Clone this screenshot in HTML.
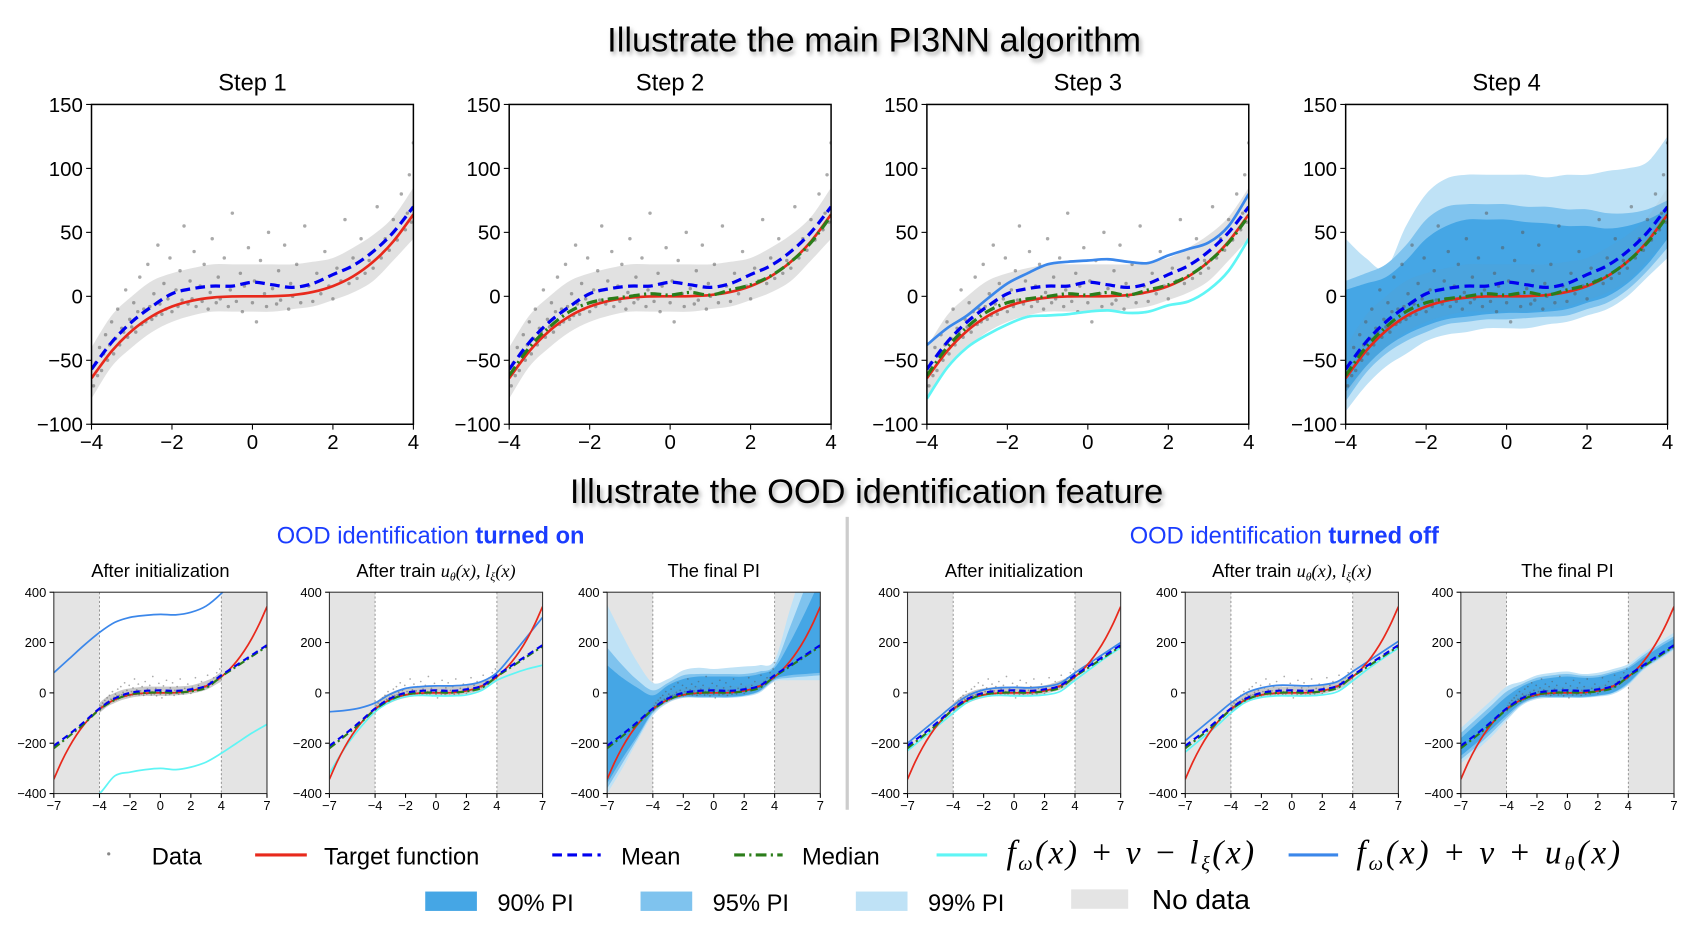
<!DOCTYPE html>
<html><head><meta charset="utf-8"><style>
html,body{margin:0;padding:0;background:#fff;}
svg{display:block;font-family:"Liberation Sans",sans-serif;}
</style></head><body>
<svg id="fig" width="1688" height="926" viewBox="0 0 1568 860" preserveAspectRatio="none" xmlns="http://www.w3.org/2000/svg">
<defs><filter id="sh" x="-5%" y="-20%" width="110%" height="150%"><feDropShadow dx="2" dy="3" stdDeviation="2" flood-color="#888" flood-opacity="0.7"/></filter></defs>
<text x="812" y="48" text-anchor="middle" font-size="32" filter="url(#sh)">Illustrate the main PI3NN algorithm</text>
<text x="805" y="467" text-anchor="middle" font-size="32" filter="url(#sh)">Illustrate the OOD identification feature</text>
<text x="400" y="505" text-anchor="middle" font-size="22" fill="#1a3cff">OOD identification <tspan font-weight="bold">turned on</tspan></text>
<text x="1193" y="505" text-anchor="middle" font-size="22" fill="#1a3cff">OOD identification <tspan font-weight="bold">turned off</tspan></text>
<line x1="787" y1="480" x2="787" y2="752" stroke="#ccc" stroke-width="3"/>
<g id="plots"></g>
<g id="legend"></g>
</svg>
<script>
// ---------- data ----------
const topX = [-4,-3.5,-3,-2.5,-2,-1.5,-1,-0.5,0,0.5,1,1.5,2,2.5,3,3.5,4];
const topTarget = [-64,-42.9,-27,-15.6,-8,-3.4,-1,-0.1,0,0.1,1,3.4,8,15.6,27,42.9,64];
const topMean = [-57,-36,-20,-8,2,6,8,8,11,9,7,10,17,24,35,50,70];
const topMedian = [-62,-40,-24,-12,-5,-2,0,2,1,3,1,5,9,16,27,42,63];
const topUpper = [-38,-25,-15,-2,10,18,25,27,28,29,27,26,32,37,42,55,80];
const topLower = [-80,-56,-40,-30,-22,-16,-15,-14,-12,-11,-13,-12,-7,-4,5,20,45];
const pi99Up = [45,30,22,55,80,92,95,95,95,95,93,95,95,98,100,105,125];
const pi99Lo = [-90,-70,-55,-45,-35,-30,-28,-25,-25,-25,-22,-20,-15,-10,0,15,30];
const pi95Up = [12,18,25,40,60,70,72,72,72,70,70,68,68,65,65,68,75];
const pi95Lo = [-82,-60,-45,-35,-28,-22,-20,-18,-18,-17,-16,-15,-10,-5,5,20,38];
const pi90Up = [5,10,15,28,45,55,60,60,60,58,57,55,55,53,55,60,68];
const pi90Lo = [-75,-55,-40,-30,-23,-18,-16,-14,-13,-13,-12,-10,-5,0,10,25,45];
// dense core of the data cloud
const cloudUp = [-40,-15,0,12,18,22,25,25,25,25,25,27,30,38,48,62,85];
const cloudLo = [-80,-55,-40,-28,-20,-15,-12,-12,-12,-12,-10,-8,-3,3,12,28,45];

const dataX = [-3.95,-3.9,-3.85,-3.8,-3.75,-3.7,-3.65,-3.6,-3.55,-3.5,-3.45,-3.4,-3.35,-3.3,-3.25,-3.2,-3.15,-3.1,-3.05,-3.0,-2.95,-2.9,-2.85,-2.8,-2.75,-2.7,-2.65,-2.6,-2.55,-2.5,-2.45,-2.4,-2.35,-2.3,-2.25,-2.2,-2.15,-2.1,-2.05,-2.0,-1.9,-1.85,-1.8,-1.75,-1.7,-1.6,-1.55,-1.5,-1.45,-1.4,-1.3,-1.25,-1.2,-1.1,-1.05,-1.0,-0.9,-0.85,-0.8,-0.7,-0.6,-0.55,-0.5,-0.4,-0.3,-0.25,-0.2,-0.1,0,0.05,0.1,0.2,0.3,0.35,0.4,0.5,0.6,0.65,0.7,0.8,0.9,0.95,1.0,1.1,1.2,1.3,1.4,1.5,1.6,1.7,1.8,1.9,2.0,2.1,2.2,2.3,2.4,2.5,2.6,2.7,2.8,2.9,3.0,3.1,3.2,3.3,3.4,3.5,3.6,3.7,3.8,3.85,3.9,3.95,4.0];
const dataY = [-70,-52,-62,-40,-58,-45,-30,-50,-38,-20,-45,-33,-10,-38,-25,-28,5,-32,-18,-24,-5,-28,-12,15,-22,-10,-20,25,-8,-18,2,-15,40,-6,-14,10,-10,-2,30,-12,5,-8,20,-3,55,-6,12,-2,35,-8,8,-4,25,-10,3,45,-5,15,-2,30,-8,5,65,-4,18,-12,8,38,-5,12,-20,28,2,-8,50,6,-6,20,-3,40,-10,10,0,25,-5,55,8,-4,18,2,35,8,-2,22,12,60,10,30,14,45,18,28,22,70,30,45,36,60,44,80,52,65,95,58,120];

const smX = [-7,-6,-5,-4,-3,-2,-1,0,1,2,3,4,5,6,7];
const smTX = [-7,-6.5,-6,-5.5,-5,-4.5,-4,-3.5,-3,-2.5,-2,-1.5,-1,-0.5,0,0.5,1,1.5,2,2.5,3,3.5,4,4.5,5,5.5,6,6.5,7];
const smTarget = [-343,-274.6,-216,-166.4,-125,-91.1,-64,-42.9,-27,-15.6,-8,-3.4,-1,-0.1,0,0.1,1,3.4,8,15.6,27,42.9,64,91.1,125,166.4,216,274.6,343];
const smMean = [-210,-165,-115,-62,-22,0,8,10,8,14,28,70,110,150,190];
const smMedian = [-220,-172,-122,-66,-28,-6,0,2,1,6,20,65,105,145,185];
const aUp = [80,135,190,240,280,300,308,312,310,320,345,395,460,520,580];
const aLo = [-520,-470,-430,-400,-330,-315,-305,-300,-305,-295,-275,-240,-200,-160,-125];
const bUp = [-75,-70,-60,-40,-5,18,25,28,28,32,45,80,150,225,300];
const bLo = [-320,-220,-140,-75,-35,-15,-10,-12,-12,-8,10,50,75,95,110];
const dUp = [-200,-150,-100,-50,-10,12,20,22,20,25,38,80,120,160,200];
const dLo = [-230,-180,-130,-80,-35,-15,-10,-12,-12,-8,5,50,95,140,180];
const eUp = [-190,-140,-90,-40,0,20,30,30,28,32,45,85,125,165,205];
const eLo = [-235,-185,-135,-80,-35,-18,-12,-12,-12,-8,5,48,95,138,178];
const c99Up = [350,230,120,40,55,90,100,95,100,105,110,130,330,520,700];
const c99Lo = [-400,-300,-190,-90,-40,-20,-20,-20,-20,-15,0,45,50,50,50];
const c95Up = [180,110,50,10,40,70,75,75,75,75,85,110,260,420,600];
const c95Lo = [-380,-280,-180,-80,-35,-18,-18,-18,-18,-12,5,50,60,65,70];
const c90Up = [110,60,20,-10,30,55,65,65,65,65,75,100,200,320,450];
const c90Lo = [-360,-260,-170,-75,-30,-15,-15,-15,-15,-10,8,55,70,75,80];
const f99Up = [-140,-85,-30,25,45,70,80,85,75,80,95,115,160,200,240];
const f99Lo = [-280,-230,-175,-110,-50,-25,-20,-20,-20,-15,-5,30,90,130,170];
const f95Up = [-160,-105,-50,5,35,60,70,75,68,70,85,105,150,190,225];
const f95Lo = [-265,-215,-160,-100,-45,-20,-18,-18,-18,-12,0,35,95,135,175];
const f90Up = [-180,-125,-70,-15,25,50,60,65,60,62,78,98,140,180,215];
const f90Lo = [-250,-200,-145,-90,-40,-18,-15,-15,-15,-10,2,40,100,140,180];

const topYTicks = [-100,-50,0,50,100,150];
const topXTicks = [-4,-2,0,2,4];
const smYTicks = [-400,-200,0,200,400];
const smXTicks = [-7,-4,-2,0,2,4,7];

const C90='#45a6e5', C95='#7fc3ee', C99='#bfe2f6';
const NS='http://www.w3.org/2000/svg';
const root=document.getElementById('plots');
function mk(tag,attrs,parent){const e=document.createElementNS(NS,tag);for(const k in attrs)e.setAttribute(k,attrs[k]);(parent||root).appendChild(e);return e;}
function smooth(pts){let d='M'+pts[0][0].toFixed(2)+','+pts[0][1].toFixed(2);
 for(let i=0;i<pts.length-1;i++){const p0=pts[i-1]||pts[i],p1=pts[i],p2=pts[i+1],p3=pts[i+2]||p2;
  const c1=[p1[0]+(p2[0]-p0[0])/6,p1[1]+(p2[1]-p0[1])/6],c2=[p2[0]-(p3[0]-p1[0])/6,p2[1]-(p3[1]-p1[1])/6];
  d+=' C'+c1.join(',')+' '+c2.join(',')+' '+p2[0].toFixed(2)+','+p2[1].toFixed(2);}return d;}
let clipN=0;
function makePlot(name,box,xr,yr,small){
 const g=mk('g',{});
 
 
 const sx=v=>box.x+(v-xr[0])/(xr[1]-xr[0])*box.w, sy=v=>box.y+box.h-(v-yr[0])/(yr[1]-yr[0])*box.h;
 const id='c'+(clipN++);const cp=mk('clipPath',{id},g);mk('rect',{x:box.x,y:box.y,width:box.w,height:box.h},cp);
 const inner=mk('g',{'clip-path':'url(#'+id+')'},g);
 return {g,inner,sx,sy,box,small};
}
function line(p,name,xs,ys,col,w,dash){const e=mk('path',{d:smooth(xs.map((x,i)=>[p.sx(x),p.sy(ys[i])])),fill:'none',stroke:col,'stroke-width':w,'stroke-dasharray':dash||'none'},p.inner);
 
 }
function band(p,name,xs,up,lo,col,op){const a=xs.map((x,i)=>[p.sx(x),p.sy(up[i])]),b=xs.map((x,i)=>[p.sx(x),p.sy(lo[i])]).reverse();
 const d=smooth(a)+' L'+b[0].join(',')+smooth(b).replace(/^M[^ ]+/,'')+'Z';
 const e=mk('path',{d,fill:col,'fill-opacity':op||1,stroke:'none'},p.inner);
 
 }
function dots(p,r,cloudOp){if(cloudOp>0)band(p,'data-cloud',topX,cloudUp,cloudLo,'#888',cloudOp);
 for(let i=0;i<dataX.length;i++){const c=mk('circle',{cx:p.sx(dataX[i]),cy:p.sy(dataY[i]),r:r,fill:'#555','fill-opacity':0.5},p.inner);
 
 }}
function axes(p,xt,yt,fs,tl){const b=p.box;
 const r=mk('rect',{x:b.x,y:b.y,width:b.w,height:b.h,fill:'none',stroke:p.small?'#333':'#000','stroke-width':p.small?1:1.4},p.g);
 
 
 yt.forEach(v=>{const y=p.sy(v);mk('line',{x1:b.x-tl,x2:b.x,y1:y,y2:y,stroke:'#000'},p.g);
  const t=mk('text',{x:b.x-tl-3,y:y+fs*0.36,'text-anchor':'end','font-size':fs},p.g);t.textContent=(v<0?'\u2212'+(-v):v);
  
  });
 xt.forEach(v=>{const x=p.sx(v);mk('line',{x1:x,x2:x,y1:b.y+b.h,y2:b.y+b.h+tl,stroke:'#000'},p.g);
  const t=mk('text',{x:x,y:b.y+b.h+tl+fs*0.95,'text-anchor':'middle','font-size':fs},p.g);t.textContent=(v<0?'\u2212'+(-v):v);
  
  });}
function title(p,txt,y,fs,html){const t=mk('text',{x:p.box.x+p.box.w/2,y:y,'text-anchor':'middle','font-size':fs},p.g);
 if(html)t.innerHTML=html;else t.textContent=txt;
 
 }

// ---------- top row ----------
const topL=[85,473,861,1250];
topL.forEach((L,k)=>{
 const p=makePlot('step-'+(k+1)+'-plot',{x:L,y:97,w:299,h:297},[-4,4],[-100,150],false);
 if(k===3){band(p,'pi-99',topX,pi99Up,pi99Lo,C99);band(p,'pi-95',topX,pi95Up,pi95Lo,C95);band(p,'pi-90',topX,pi90Up,pi90Lo,C90);}
 dots(p,1.6,k===3?0.08:0.25);
 if(k===2){line(p,'upper-bound',topX,topUpper,'#3b87ea',2.5);line(p,'lower-bound',topX,topLower,'#5ff5f5',2.5);}
 line(p,'target-function',topX,topTarget,'#e8291c',2.5);
 if(k>0)line(p,'median-line',topX,topMedian,'#2b7d1a',3,'10,4,2,4');
 line(p,'mean-line',topX,topMean,'#0000f0',3,'9,5');
 axes(p,topXTicks,topYTicks,19,5);
 title(p,'Step '+(k+1),84,22);
});

// ---------- bottom row ----------
const smL=[50,306,564,843,1101,1357];
const smTitles=['After initialization',null,'The final PI','After initialization',null,'The final PI'];
const trainT='After train <tspan font-family="Liberation Serif" font-style="italic">u<tspan font-size="11" dy="3">θ</tspan><tspan dy="-3">(x), l</tspan><tspan font-size="11" dy="3">ξ</tspan><tspan dy="-3">(x)</tspan></tspan>';
smL.forEach((L,k)=>{
 const p=makePlot('ood-plot-'+(k+1),{x:L,y:550,w:198,h:187},[-7,7],[-400,400],true);
 const sh1=mk('rect',{x:p.sx(-7),y:550,width:p.sx(-4)-p.sx(-7),height:187,fill:'#e4e4e4'},p.inner);
 
 
 const sh2=mk('rect',{x:p.sx(4),y:550,width:p.sx(7)-p.sx(4),height:187,fill:'#e4e4e4'},p.inner);
 
 
 [-4,4].forEach(v=>mk('line',{x1:p.sx(v),x2:p.sx(v),y1:550,y2:737,stroke:'#888','stroke-width':0.8,'stroke-dasharray':'2,2'},p.inner));
 if(k===2){band(p,'pi-99',smX,c99Up,c99Lo,C99);band(p,'pi-95',smX,c95Up,c95Lo,C95);band(p,'pi-90',smX,c90Up,c90Lo,C90);}
 if(k===5){band(p,'pi-99',smX,f99Up,f99Lo,C99);band(p,'pi-95',smX,f95Up,f95Lo,C95);band(p,'pi-90',smX,f90Up,f90Lo,C90);}
 dots(p,0.8,(k===2||k===5)?0.1:0.45);
 const ups=[aUp,bUp,null,dUp,eUp,null][k], los=[aLo,bLo,null,dLo,eLo,null][k];
 if(ups){line(p,'upper-bound',smX,ups,'#3b87ea',1.6);line(p,'lower-bound',smX,los,'#5ff5f5',1.6);}
 line(p,'target-function',smTX,smTarget,'#e8291c',1.6);
 line(p,'median-line',smX,smMedian,'#2b7d1a',2,'7,3,2,3');
 line(p,'mean-line',smX,smMean,'#0000f0',2,'6,4');
 axes(p,smXTicks,smYTicks,12,4);
 if(smTitles[k])title(p,smTitles[k],536,17);else title(p,'',536,17,trainT);
});

// ---------- legend ----------
const lg=document.getElementById('legend');
function lt(x,y,txt,fs,name){const t=mk('text',{x,y,'font-size':fs},lg);t.textContent=txt;
 
 return t;}
mk('circle',{cx:101,cy:793,r:1.5,fill:'#888'},lg);
lt(141,803,'Data',22,'legend-data');
mk('line',{x1:237,x2:285,y1:794,y2:794,stroke:'#e8291c','stroke-width':3},lg);
lt(301,803,'Target function',22,'legend-target');
mk('line',{x1:513,x2:558,y1:794,y2:794,stroke:'#0000f0','stroke-width':3,'stroke-dasharray':'9,5'},lg);
lt(577,803,'Mean',22,'legend-mean');
mk('line',{x1:682,x2:727,y1:794,y2:794,stroke:'#2b7d1a','stroke-width':3,'stroke-dasharray':'10,4,2,4'},lg);
lt(745,803,'Median',22,'legend-median');
mk('line',{x1:870,x2:917,y1:794,y2:794,stroke:'#5ff5f5','stroke-width':3},lg);
const m1=lt(935,802,'',31,'legend-lower-bound');
m1.setAttribute('font-family','Liberation Serif');m1.setAttribute('font-style','italic');
m1.setAttribute('textLength','230');
m1.innerHTML='f<tspan font-size="19" dy="6">ω</tspan><tspan dy="-6">(x) + ν − l</tspan><tspan font-size="19" dy="6">ξ</tspan><tspan dy="-6">(x)</tspan>';
mk('line',{x1:1197,x2:1243,y1:794,y2:794,stroke:'#3b87ea','stroke-width':3},lg);
const m2=lt(1260,802,'',31,'legend-upper-bound');
m2.setAttribute('font-family','Liberation Serif');m2.setAttribute('font-style','italic');
m2.setAttribute('textLength','245');
m2.innerHTML='f<tspan font-size="19" dy="6">ω</tspan><tspan dy="-6">(x) + ν + u</tspan><tspan font-size="19" dy="6">θ</tspan><tspan dy="-6">(x)</tspan>';
[[395,C90,'90% PI'],[595,C95,'95% PI'],[795,C99,'99% PI']].forEach(([x,c,t])=>{
 mk('rect',{x,y:828,width:48,height:18,fill:c},lg);lt(x+67,846,t,22,'legend-'+t.slice(0,2)+'-pi');});
mk('rect',{x:995,y:826,width:53,height:18,fill:'#e4e4e4'},lg);
lt(1070,844,'No data',26,'legend-no-data');
</script>
</body></html>
